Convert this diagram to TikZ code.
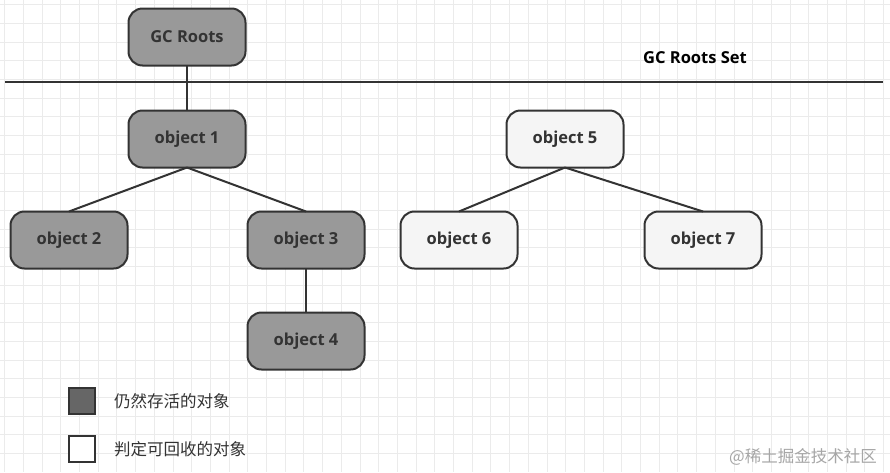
\documentclass[tikz,border=0pt]{standalone}
\usepackage{fontspec}
\setmainfont{Open Sans}
\newfontfamily\cjk{Noto Sans CJK SC}
\usetikzlibrary{positioning}
\definecolor{alivegray}{HTML}{999999}
\definecolor{deadwhite}{HTML}{F5F5F5}
\definecolor{edgegray}{HTML}{333333}
\definecolor{gridgray}{HTML}{EBEBEB}
\tikzset{
    font = \fontsize{16.5pt}{19pt}\selectfont\bfseries,
    every node/.style = {
        inner sep = 0pt,
        outer sep = 0pt
    },
    obj/.style = {
        draw = edgegray,
        line width = 2pt,
        rounded corners = 14pt,
        minimum width = 117pt,
        minimum height = 57pt,
        text = black!80
    },
    alive/.style = {
        obj,
        fill = alivegray
    },
    dead/.style = {
        obj,
        fill = deadwhite
    },
    legendbox/.style = {
        draw = edgegray,
        line width = 2pt,
        minimum size = 26pt
    },
    note right/.style = {
        anchor = west,
        font = \fontsize{16.5pt}{19pt}\selectfont\cjk,
        text = black!80
    },
    link/.style = {
        draw = edgegray,
        line width = 2pt
    }
}

\begin{document}
\begin{tikzpicture}
    \useasboundingbox (0,0) rectangle (890pt,-472pt);
    \fill[white] (0,0) rectangle (890pt,-472pt);
    \draw[gridgray, line width=0.8pt, step=18.7pt, xshift=4.6pt, yshift=-4.6pt]
        (-4.6pt,4.6pt) grid (885pt,-467pt);

    % roots
    \node (roots) at (187pt,-37pt) [alive]{GC Roots};
    \node (setlabel) at (695pt,-58pt) {GC Roots Set};
    \coordinate (setl) at (5pt,-82pt);
    \coordinate (setr) at (883pt,-82pt);
    \draw[link] (setl) -- (setr);

    % reachable
    \node (o1) at (187pt,-139pt) [alive]{object 1};
    \node (o2) at (69pt,-240pt) [alive]{object 2};
    \node (o3) at (306pt,-240pt) [alive]{object 3};
    \node (o4) at (306pt,-341pt) [alive]{object 4};

    % unreachable
    \node (o5) at (565pt,-139pt) [dead]{object 5};
    \node (o6) at (459pt,-240pt) [dead]{object 6};
    \node (o7) at (703pt,-240pt) [dead]{object 7};

    \draw[link] (roots) -- (o1);
    \draw[link] (o1.south) -- (o2.north);
    \draw[link] (o1.south) -- (o3.north);
    \draw[link] (o3) -- (o4);
    \draw[link] (o5.south) -- (o6.north);
    \draw[link] (o5.south) -- (o7.north);

    % legend
    \node (keyalive) at (82pt,-401pt) [legendbox, fill=black!60]{};
    \node (keydead) at (82pt,-449pt) [legendbox, fill=white]{};
    \node (txtalive) [note right, right=19pt of keyalive]{仍然存活的对象};
    \node (txtdead) [note right, right=19pt of keydead]{判定可回收的对象};

    \node (mark) at (803pt,-457pt) [font=\fontsize{16.5pt}{19pt}\selectfont\cjk, text=black!35]{@稀土掘金技术社区};
\end{tikzpicture}
\end{document}
